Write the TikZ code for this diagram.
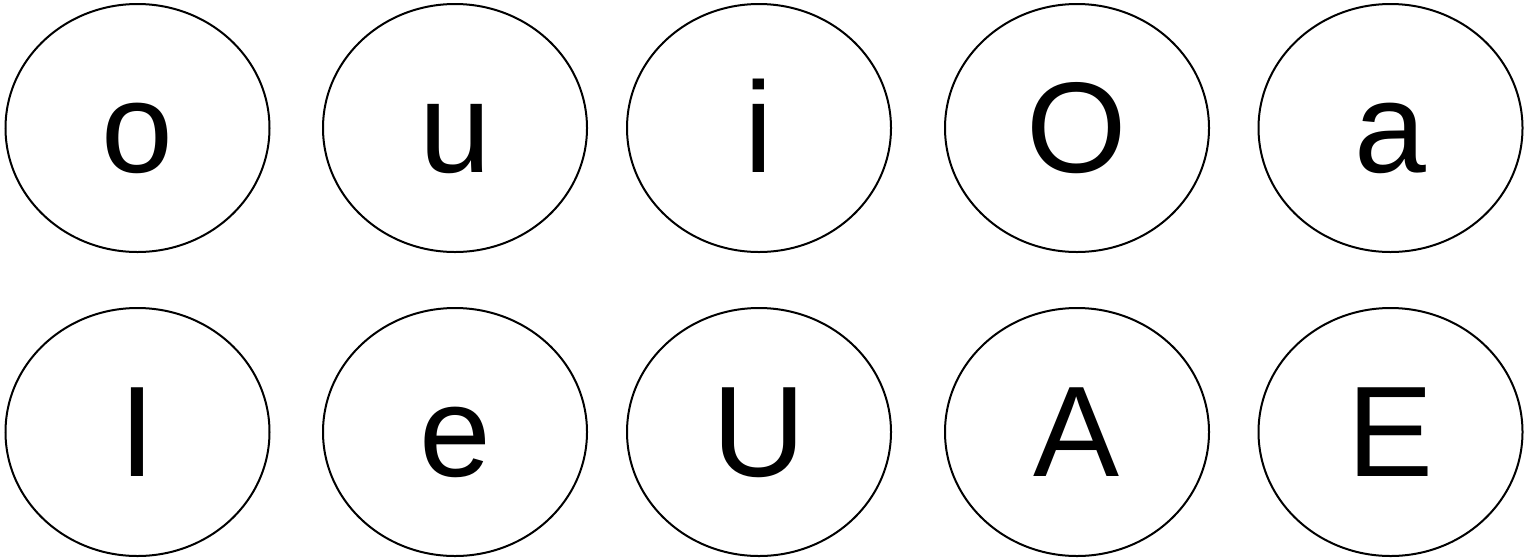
\documentclass[tikz,border=0pt]{standalone}
\usepackage{fontspec}
\setmainfont{Liberation Sans}
\usetikzlibrary{shapes.geometric}
\begin{document}
\begin{tikzpicture}[x=1pt,y=-1pt,
  vowel/.style={draw=black, line width=2pt, ellipse, inner sep=0pt,
    minimum width=264pt, minimum height=248pt,
    text height=88pt, text depth=0pt,
    font=\fontsize{129}{140}\selectfont}]
\useasboundingbox (0,0) rectangle (1526,558);
\node[vowel] (o) at (137.5,128) {o};
\node[vowel] (u) at (455,128) {u};
\node[vowel] (i) at (759,128) {i};
\node[vowel] (O) at (1077,128) {O};
\node[vowel] (a) at (1390.5,128) {a};
\node[vowel] (I) at (137.5,432) {I};
\node[vowel] (e) at (455,432) {e};
\node[vowel] (U) at (759,432) {U};
\node[vowel] (A) at (1077,432) {A};
\node[vowel] (E) at (1390.5,432) {E};
\end{tikzpicture}
\end{document}
